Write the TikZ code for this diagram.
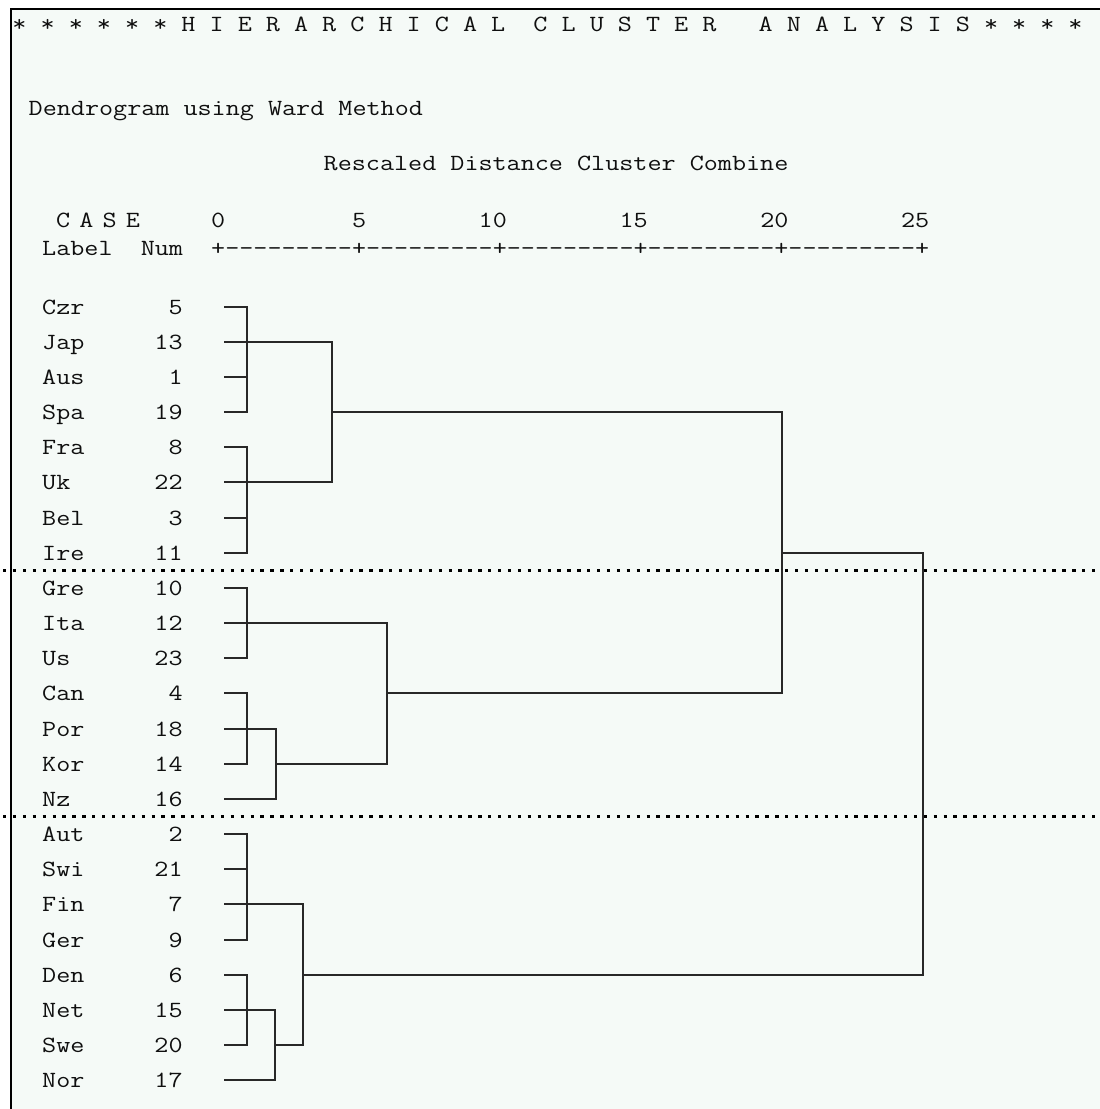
\documentclass[tikz,border=0pt]{standalone}
\usepackage{graphicx}
\definecolor{bgc}{RGB}{245,250,247}
\definecolor{lc}{RGB}{40,40,40}
\definecolor{tc}{RGB}{15,15,15}
\newcommand\mfont{\fontsize{23.3}{28}\selectfont\ttfamily}
\newlength\mcw
\newcommand\sx[1]{\scalebox{\sxf}[1]{#1}}
\newcommand\dd{-\kern0pt}
\newcommand\seg{\dd\dd\dd\dd\dd\dd\dd\dd\dd+}
\begin{document}
\settowidth{\mcw}{\mfont 0}%
\pgfmathsetmacro\sxf{14.133/\mcw}%
\begin{tikzpicture}[x=1bp,y=-1bp,
  lab/.style={inner sep=0pt, anchor=base west, text=tc, font=\mfont},
  num/.style={inner sep=0pt, anchor=base east, text=tc, font=\mfont},
  dl/.style={line width=2bp, draw=lc, line cap=rect},
  sepl/.style={line width=3.2bp, dash pattern=on 3.3bp off 6.6bp, draw=black},
  frame/.style={line width=2bp, draw=black}]
\useasboundingbox (0,0) rectangle (1100,1109);
\fill[white] (0,0) rectangle (1100,1109);
\fill[bgc] (11,9) rectangle (1100,1109);
\coordinate (fbl) at (11,1109);
\coordinate (ftl) at (11,9);
\coordinate (ftr) at (1100,9);
\draw[frame] (fbl) -- (ftl) -- (ftr);

% header texts
\node[lab] (title) at (12.3,31) {\sx{*~*~*~*~*~*~H~I~E~R~A~R~C~H~I~C~A~L~~C~L~U~S~T~E~R~~~A~N~A~L~Y~S~I~S~*~*~*~*}};
\node[lab] (dendro) at (28.5,115) {\sx{Dendrogram using Ward Method}};
\node[lab] (resc) at (323.5,170) {\sx{Rescaled Distance Cluster Combine}};
\node[lab] (case) at (56,227) {\sx{C\kern7.8pt A\kern7.8pt S\kern7.8pt E}};
\node[lab] (scale) at (211,227) {\sx{0~~~~~~~~~5~~~~~~~~10~~~~~~~~15~~~~~~~~20~~~~~~~~25}};
\node[lab] (labnum) at (42,255) {\sx{Label~~Num}};
\node[lab] (axis) at (211,255) {\sx{+\seg\seg\seg\seg\seg}};

% cases
\foreach \t/\n [count=\i from 0] in {Czr/5,Jap/13,Aus/1,Spa/19,Fra/8,Uk/22,Bel/3,Ire/11,Gre/10,Ita/12,Us/23,Can/4,Por/18,Kor/14,Nz/16,Aut/2,Swi/21,Fin/7,Ger/9,Den/6,Net/15,Swe/20,Nor/17} {
  \pgfmathsetmacro\yy{round(306.5+35.17*\i)}
  \node[lab] (c\i) at (42,\yy+7) {\sx{\t}};
  \node[num] (n\i) at (182.8,\yy+7) {\sx{\n}};
  \coordinate (l\i) at (225,\yy);
}

% dendrogram
\foreach \i in {0,...,13,15,16,...,21} \draw[dl] (l\i) -- ++(22,0);
\draw[dl] (l14) -- ++(51,0);
\draw[dl] (l22) -- ++(50,0);
\foreach \X/\a/\b/\e/\Y in {247/0/3/1/332, 247/4/7/5/332, 332/1/5/3/782, 247/8/10/9/387, 247/11/13/12/276, 276/12/14/13/387, 387/9/13/11/782, 782/3/11/7/923, 247/15/18/17/303, 247/19/21/20/275, 275/20/22/21/303, 303/17/21/19/923} {
  \draw[dl] ([xshift={(\X-225)*1bp}]l\a) -- ([xshift={(\X-225)*1bp}]l\b);
  \draw[dl] ([xshift={(\X-225)*1bp}]l\e) -- ([xshift={(\Y-225)*1bp}]l\e);
}
\draw[dl] ([xshift=698bp]l7) -- ([xshift=698bp]l19);

% separators
\coordinate (s1a) at (3,570.5);
\coordinate (s1b) at (1100,570.5);
\coordinate (s2a) at (3,816.5);
\coordinate (s2b) at (1100,816.5);
\draw[sepl] (s1a) -- (s1b);
\draw[sepl] (s2a) -- (s2b);
\end{tikzpicture}
\end{document}
